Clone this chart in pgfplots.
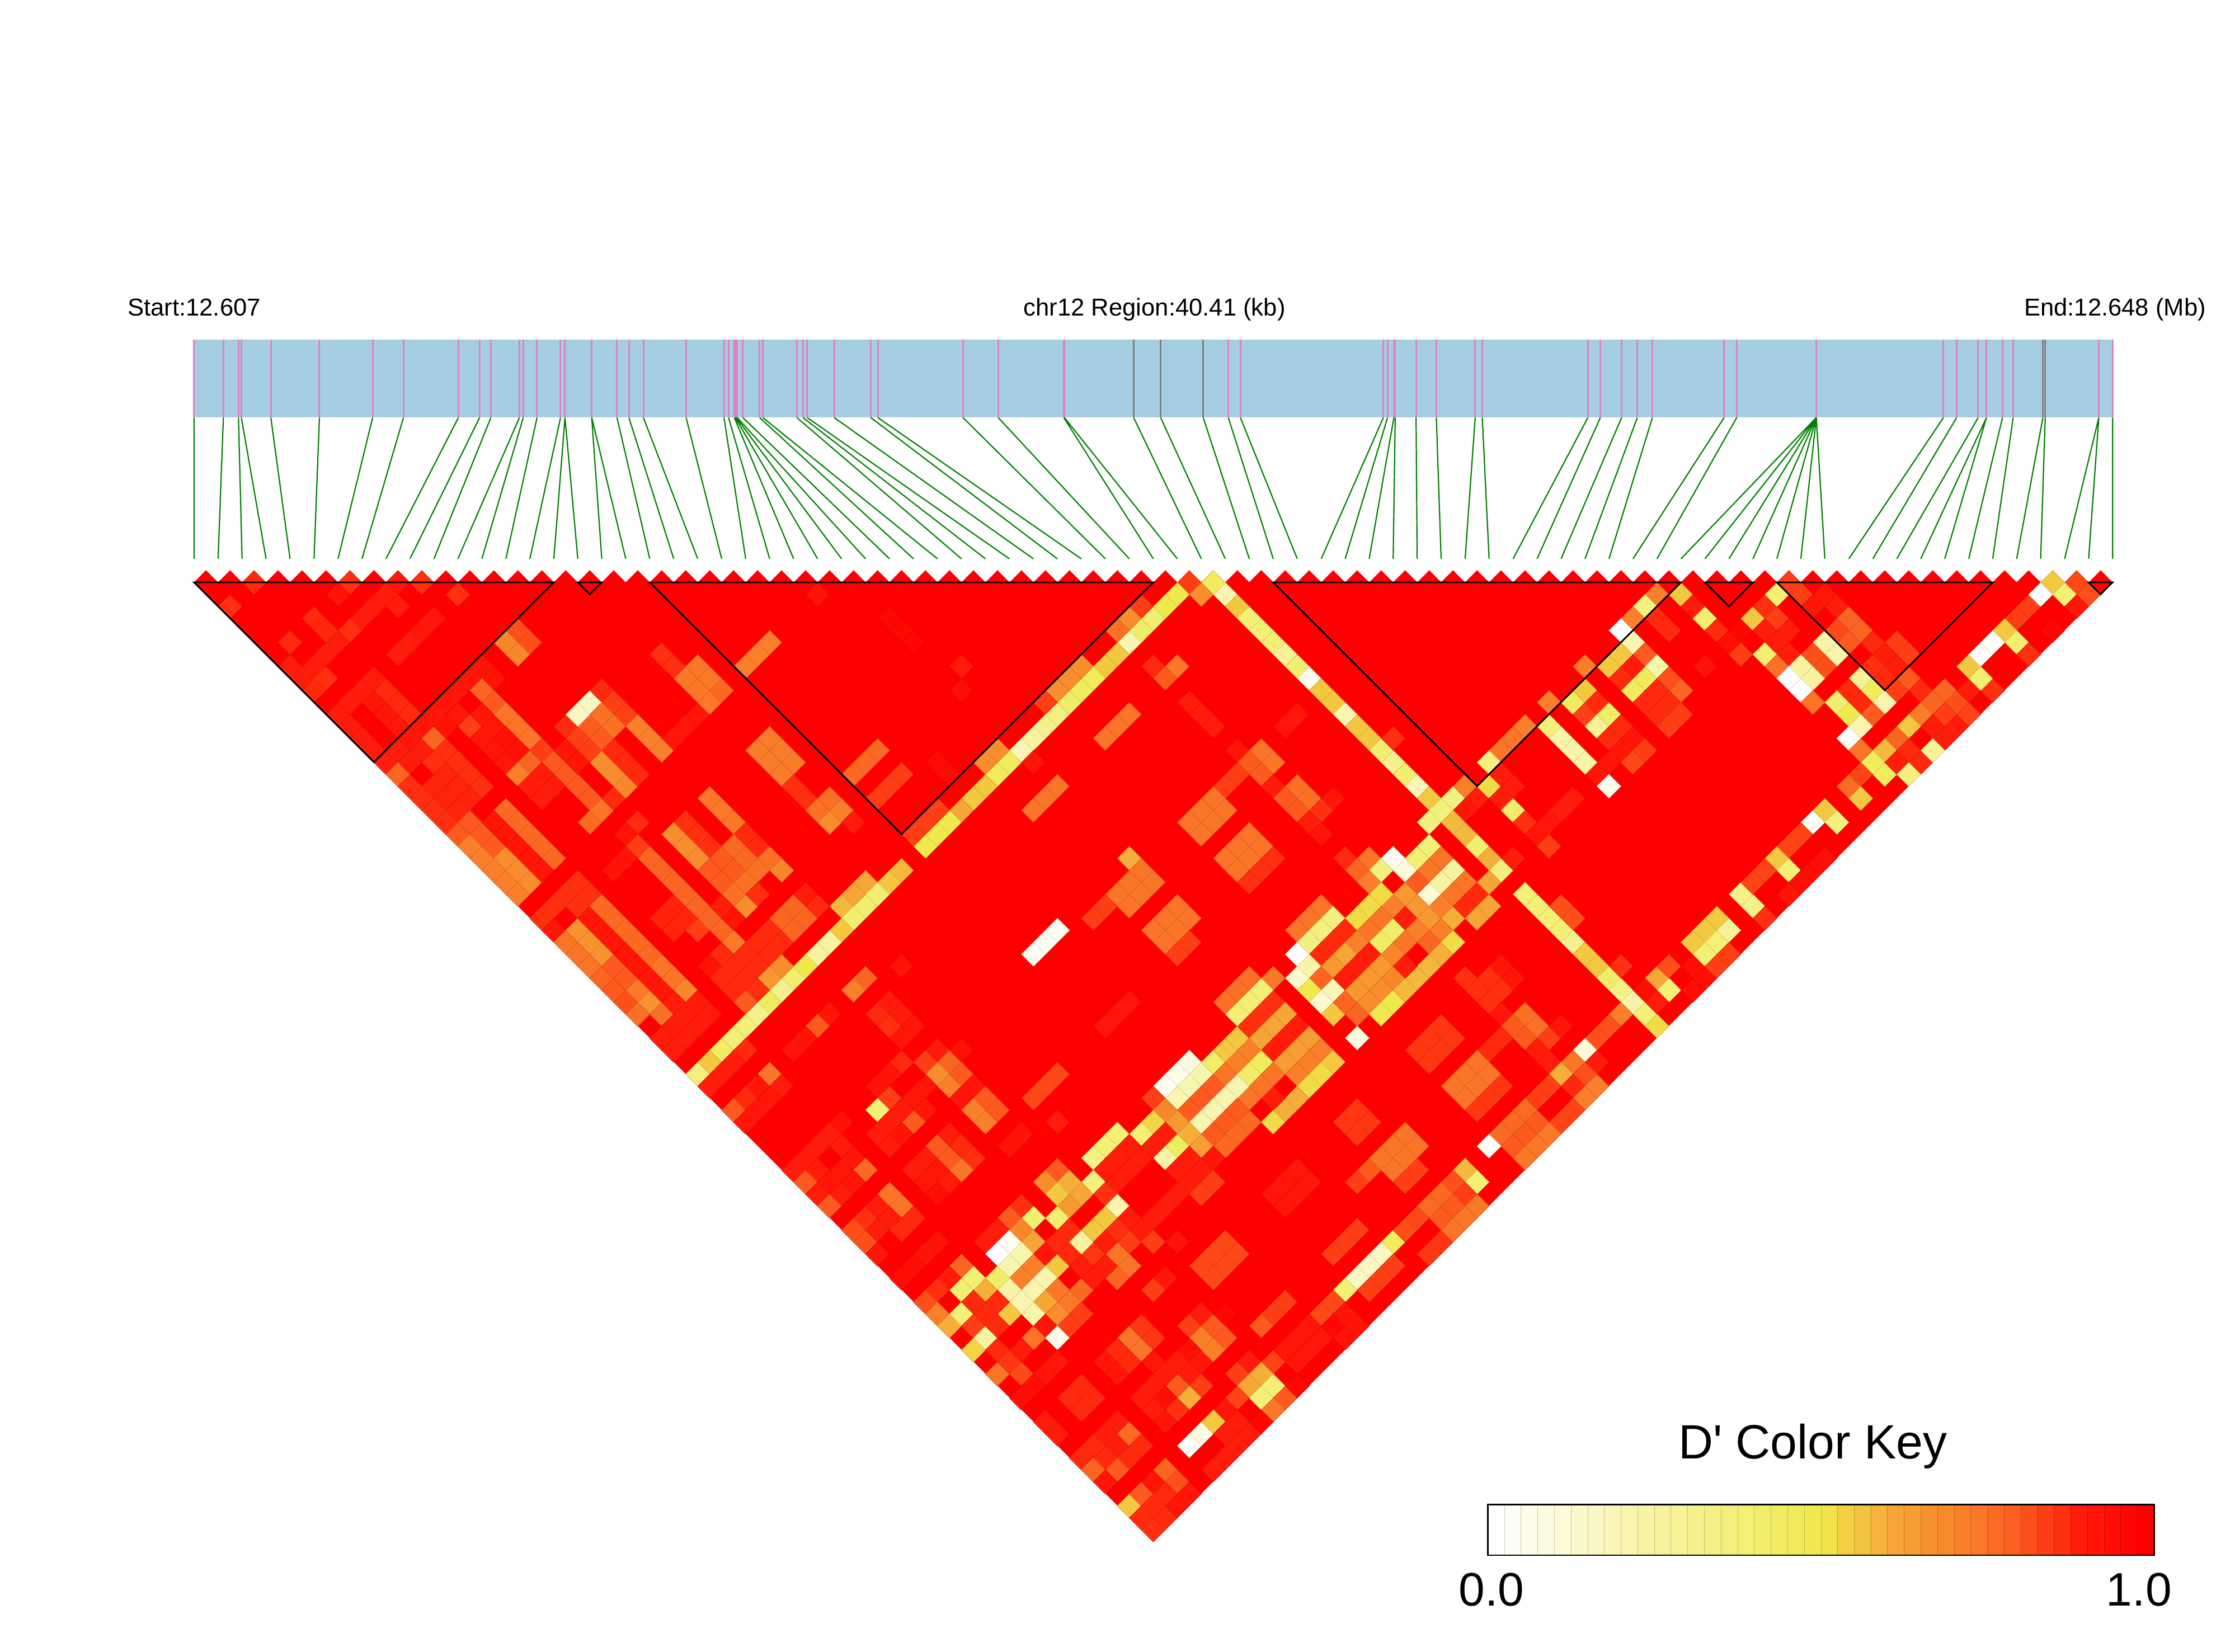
\documentclass[border=0pt]{standalone}
\usepackage{fontspec}
\setmainfont{Liberation Sans}
\usepackage{pgfplots}
\pgfplotsset{compat=1.18}
\definecolor{trackblue}{HTML}{A6CEE3}
\definecolor{snppink}{HTML}{DE82BE}
\definecolor{snpgray}{HTML}{808080}
\definecolor{snpgreen}{HTML}{008000}
\pgfplotsset{ldframe/.style={
  scale only axis, width=998.75pt, height=738.25pt,
  xmin=-16.19, xmax=170.21, ymin=-48.57, ymax=89.21, y dir=reverse,
  hide axis, clip=false}}
\begin{document}
\begin{tikzpicture}
\begin{axis}[
  ldframe,
  point meta min=0, point meta max=1,
  colormap={ld}{rgb255(0pt)=(255,255,255); rgb255(20pt)=(249,245,176); rgb255(40pt)=(243,238,111); rgb255(50pt)=(240,233,78); rgb255(55pt)=(243,200,64); rgb255(60pt)=(245,174,58); rgb255(66pt)=(247,148,47); rgb255(75pt)=(250,117,39); rgb255(80pt)=(252,90,30); rgb255(85pt)=(254,62,20); rgb255(90pt)=(255,28,10); rgb255(100pt)=(255,0,0)},
]
\path (axis cs:-16.19,-48.57) rectangle (axis cs:170.21,89.21);
% tracks
\addplot[fill=trackblue,draw=none] coordinates {(0,-20.25)(160,-20.25)(160,-13.74)(0,-13.74)} --cycle;
\addplot[snppink,line width=0.75pt,unbounded coords=jump] coordinates {
(0,-20.25)(0,-13.74)(nan,nan)(2.44,-20.25)(2.44,-13.74)(nan,nan)(3.70,-20.25)(3.70,-13.74)(nan,nan)(3.94,-20.25)(3.94,-13.74)(nan,nan)(6.40,-20.25)(6.40,-13.74)(nan,nan)(10.45,-20.25)(10.45,-13.74)(nan,nan)(14.89,-20.25)(14.89,-13.74)(nan,nan)(17.46,-20.25)(17.46,-13.74)(nan,nan)(22.04,-20.25)(22.04,-13.74)(nan,nan)(23.81,-20.25)(23.81,-13.74)(nan,nan)(24.75,-20.25)(24.75,-13.74)(nan,nan)(27.13,-20.25)(27.13,-13.74)(nan,nan)(27.45,-20.25)(27.45,-13.74)(nan,nan)(28.60,-20.25)(28.60,-13.74)(nan,nan)(30.56,-20.25)(30.56,-13.74)(nan,nan)(30.93,-20.25)(30.93,-13.74)(nan,nan)(33.16,-20.25)(33.16,-13.74)(nan,nan)(35.27,-20.25)(35.27,-13.74)(nan,nan)(36.26,-20.25)(36.26,-13.74)(nan,nan)(37.47,-20.25)(37.47,-13.74)(nan,nan)(41.03,-20.25)(41.03,-13.74)(nan,nan)(44.19,-20.25)(44.19,-13.74)(nan,nan)(44.57,-20.25)(44.57,-13.74)(nan,nan)(45.05,-20.25)(45.05,-13.74)(nan,nan)(45.13,-20.25)(45.13,-13.74)(nan,nan)(45.21,-20.25)(45.21,-13.74)(nan,nan)(45.29,-20.25)(45.29,-13.74)(nan,nan)(45.77,-20.25)(45.77,-13.74)(nan,nan)(47.16,-20.25)(47.16,-13.74)(nan,nan)(47.43,-20.25)(47.43,-13.74)(nan,nan)(50.27,-20.25)(50.27,-13.74)(nan,nan)(50.78,-20.25)(50.78,-13.74)(nan,nan)(51.13,-20.25)(51.13,-13.74)(nan,nan)(53.38,-20.25)(53.38,-13.74)(nan,nan)(56.43,-20.25)(56.43,-13.74)(nan,nan)(57.02,-20.25)(57.02,-13.74)(nan,nan)(64.12,-20.25)(64.12,-13.74)(nan,nan)(67.06,-20.25)(67.06,-13.74)(nan,nan)(72.53,-20.25)(72.53,-13.74)(nan,nan)(72.58,-20.25)(72.58,-13.74)(nan,nan)(86.25,-20.25)(86.25,-13.74)(nan,nan)(87.26,-20.25)(87.26,-13.74)(nan,nan)(99.18,-20.25)(99.18,-13.74)(nan,nan)(99.53,-20.25)(99.53,-13.74)(nan,nan)(100.06,-20.25)(100.06,-13.74)(nan,nan)(100.17,-20.25)(100.17,-13.74)(nan,nan)(101.91,-20.25)(101.91,-13.74)(nan,nan)(103.60,-20.25)(103.60,-13.74)(nan,nan)(106.84,-20.25)(106.84,-13.74)(nan,nan)(107.43,-20.25)(107.43,-13.74)(nan,nan)(116.24,-20.25)(116.24,-13.74)(nan,nan)(117.28,-20.25)(117.28,-13.74)(nan,nan)(119.05,-20.25)(119.05,-13.74)(nan,nan)(120.36,-20.25)(120.36,-13.74)(nan,nan)(121.62,-20.25)(121.62,-13.74)(nan,nan)(127.60,-20.25)(127.60,-13.74)(nan,nan)(128.65,-20.25)(128.65,-13.74)(nan,nan)(135.29,-20.25)(135.29,-13.74)(nan,nan)(145.89,-20.25)(145.89,-13.74)(nan,nan)(146.99,-20.25)(146.99,-13.74)(nan,nan)(148.79,-20.25)(148.79,-13.74)(nan,nan)(149.48,-20.25)(149.48,-13.74)(nan,nan)(150.82,-20.25)(150.82,-13.74)(nan,nan)(151.71,-20.25)(151.71,-13.74)(nan,nan)(158.85,-20.25)(158.85,-13.74)(nan,nan)(160,-20.25)(160,-13.74)
};
\addplot[snpgray,line width=0.75pt,unbounded coords=jump] coordinates {
(78.36,-20.25)(78.36,-13.74)(nan,nan)(80.61,-20.25)(80.61,-13.74)(nan,nan)(84.16,-20.25)(84.16,-13.74)(nan,nan)(154.19,-20.25)(154.19,-13.74)(nan,nan)(154.38,-20.25)(154.38,-13.74)
};
% connectors
\addplot[snpgreen,line width=0.55pt,unbounded coords=jump] coordinates {
(0,-13.74)(0,-1.96)(nan,nan)(2.44,-13.74)(2,-1.96)(nan,nan)(3.70,-13.74)(4,-1.96)(nan,nan)(3.94,-13.74)(6,-1.96)(nan,nan)(6.40,-13.74)(8,-1.96)(nan,nan)(10.45,-13.74)(10,-1.96)(nan,nan)(14.89,-13.74)(12,-1.96)(nan,nan)(17.46,-13.74)(14,-1.96)(nan,nan)(22.04,-13.74)(16,-1.96)(nan,nan)(23.81,-13.74)(18,-1.96)(nan,nan)
(24.75,-13.74)(20,-1.96)(nan,nan)(27.13,-13.74)(22,-1.96)(nan,nan)(27.45,-13.74)(24,-1.96)(nan,nan)(28.60,-13.74)(26,-1.96)(nan,nan)(30.56,-13.74)(28,-1.96)(nan,nan)(30.93,-13.74)(30,-1.96)(nan,nan)(30.93,-13.74)(32,-1.96)(nan,nan)(33.16,-13.74)(34,-1.96)(nan,nan)(33.16,-13.74)(36,-1.96)(nan,nan)(35.27,-13.74)(38,-1.96)(nan,nan)
(36.26,-13.74)(40,-1.96)(nan,nan)(37.47,-13.74)(42,-1.96)(nan,nan)(41.03,-13.74)(44,-1.96)(nan,nan)(44.19,-13.74)(46,-1.96)(nan,nan)(44.57,-13.74)(48,-1.96)(nan,nan)(45.05,-13.74)(50,-1.96)(nan,nan)(45.13,-13.74)(52,-1.96)(nan,nan)(45.21,-13.74)(54,-1.96)(nan,nan)(45.29,-13.74)(56,-1.96)(nan,nan)(45.77,-13.74)(58,-1.96)(nan,nan)
(47.16,-13.74)(60,-1.96)(nan,nan)(47.43,-13.74)(62,-1.96)(nan,nan)(50.27,-13.74)(64,-1.96)(nan,nan)(50.78,-13.74)(66,-1.96)(nan,nan)(51.13,-13.74)(68,-1.96)(nan,nan)(53.38,-13.74)(70,-1.96)(nan,nan)(56.43,-13.74)(72,-1.96)(nan,nan)(57.02,-13.74)(74,-1.96)(nan,nan)(64.12,-13.74)(76,-1.96)(nan,nan)(67.06,-13.74)(78,-1.96)(nan,nan)
(72.53,-13.74)(80,-1.96)(nan,nan)(72.58,-13.74)(82,-1.96)(nan,nan)(78.36,-13.74)(84,-1.96)(nan,nan)(80.61,-13.74)(86,-1.96)(nan,nan)(84.16,-13.74)(88,-1.96)(nan,nan)(86.25,-13.74)(90,-1.96)(nan,nan)(87.26,-13.74)(92,-1.96)(nan,nan)(99.18,-13.74)(94,-1.96)(nan,nan)(99.53,-13.74)(96,-1.96)(nan,nan)(100.06,-13.74)(98,-1.96)(nan,nan)
(100.17,-13.74)(100,-1.96)(nan,nan)(101.91,-13.74)(102,-1.96)(nan,nan)(103.60,-13.74)(104,-1.96)(nan,nan)(106.84,-13.74)(106,-1.96)(nan,nan)(107.43,-13.74)(108,-1.96)(nan,nan)(116.24,-13.74)(110,-1.96)(nan,nan)(117.28,-13.74)(112,-1.96)(nan,nan)(119.05,-13.74)(114,-1.96)(nan,nan)(120.36,-13.74)(116,-1.96)(nan,nan)(121.62,-13.74)(118,-1.96)(nan,nan)
(127.60,-13.74)(120,-1.96)(nan,nan)(128.65,-13.74)(122,-1.96)(nan,nan)(135.29,-13.74)(124,-1.96)(nan,nan)(135.29,-13.74)(126,-1.96)(nan,nan)(135.29,-13.74)(128,-1.96)(nan,nan)(135.29,-13.74)(130,-1.96)(nan,nan)(135.29,-13.74)(132,-1.96)(nan,nan)(135.29,-13.74)(134,-1.96)(nan,nan)(135.29,-13.74)(136,-1.96)(nan,nan)(145.89,-13.74)(138,-1.96)(nan,nan)
(146.99,-13.74)(140,-1.96)(nan,nan)(148.79,-13.74)(142,-1.96)(nan,nan)(149.48,-13.74)(144,-1.96)(nan,nan)(149.48,-13.74)(146,-1.96)(nan,nan)(150.82,-13.74)(148,-1.96)(nan,nan)(151.71,-13.74)(150,-1.96)(nan,nan)(154.19,-13.74)(152,-1.96)(nan,nan)(154.38,-13.74)(154,-1.96)(nan,nan)(158.85,-13.74)(156,-1.96)(nan,nan)(158.85,-13.74)(158,-1.96)(nan,nan)(160,-13.74)(160,-1.96)
};
% red base of the triangle and first row
\addplot[fill=red,draw=none] coordinates {(0,0)(160,0)(80,80)} --cycle;
\addplot[only marks,mark=square*,mark size=3.8pt,color=red,mark options={rotate=45,line width=0pt}] coordinates {
(1,0)(3,0)(5,0)(7,0)(9,0)(11,0)(13,0)(15,0)(17,0)(19,0)(21,0)(23,0)(25,0)(27,0)(29,0)(31,0)(33,0)(35,0)(37,0)(39,0)(41,0)(43,0)(45,0)(47,0)(49,0)(51,0)(53,0)(55,0)(57,0)(59,0)(61,0)(63,0)(65,0)(67,0)(69,0)(71,0)(73,0)(75,0)(77,0)(79,0)(81,0)(83,0)(85,0)(87,0)(89,0)(91,0)(93,0)(95,0)(97,0)(99,0)(101,0)(103,0)(105,0)(107,0)(109,0)(111,0)(113,0)(115,0)(117,0)(119,0)(121,0)(123,0)(125,0)(127,0)(129,0)(131,0)(133,0)(135,0)(137,0)(139,0)(141,0)(143,0)(145,0)(147,0)(149,0)(151,0)(153,0)(155,0)(157,0)(159,0)
};
% D' values below 1
\addplot[scatter,only marks,scatter src=explicit,mark=square*,mark size=3.8pt,mark options={rotate=45,line width=0pt}] coordinates {
(5,0)[.88](13,0)[.87](19,0)[.87](17,0)[.92](12,1)[.93](16,1)[.9](15,2)[.9](14,3)[.9](13,4)[.87](17,2)[.9](22,1)[.87](3,2)[.87](10,3)[.88](11,4)[.88](8,5)[.88](12,5)[.9](11,6)[.9](10,7)[.9](9,8)[.9](8,7)[.9](10,9)[.88](11,8)[.87](20,3)[.92](19,4)[.92](18,5)[.9](17,6)[.9]
(15,8)[.9](14,9)[.9](13,10)[.9](12,11)[.9](13,12)[.9](14,13)[.9](15,14)[.9](16,15)[.9](16,9)[.88](17,10)[.88](18,11)[.88](15,10)[.92](16,11)[.92](17,12)[.92]
(19,12)[.92](18,13)[.92](19,14)[.9](20,13)[.78](17,14)[.9](18,15)[.9](17,16)[.78](20,15)[.87](21,14)[.87](22,15)[.87](23,16)[.87](24,17)[.87](21,16)[.89](22,17)[.89](23,18)[.89](20,17)[.89](21,18)[.89](22,19)[.89](18,17)[.87](19,18)[.87](20,19)[.87](21,20)[.87](22,21)[.8](23,20)[.8](24,21)[.8](25,22)[.8](23,22)[.72](24,23)[.72](25,24)[.72](26,25)[.72](27,26)[.72](26,23)[.68](27,24)[.68](28,25)[.68]
(26,19)[.77](27,20)[.77](28,21)[.77](29,22)[.77](30,23)[.77](25,20)[.92](26,21)[.92](27,22)[.92](28,23)[.92](29,24)[.92](30,27)[.87](31,26)[.87](32,25)[.87](33,26)[.9](32,27)[.9](34,27)[.8]
(27,4)[.82](28,5)[.82](26,5)[.7](27,6)[.7](24,7)[.93](25,8)[.93](23,8)[.92](22,9)[.92](21,10)[.92](20,11)[.92](22,11)[.92](23,12)[.85](24,9)[.78](25,10)[.8](24,11)[.92](25,12)[.92](26,11)[.75](27,12)[.75](28,13)[.75](24,13)[.92](25,14)[.92](26,15)[.92](26,13)[.94](27,14)[.94](21,12)[.93]
(28,15)[.78](27,16)[.72](29,14)[.85](30,15)[.8](31,16)[.8](32,17)[.8](33,18)[.8](29,16)[.9](30,17)[.9](28,17)[.9](29,18)[.9](33,20)[.77](34,19)[.75](35,18)[.88](34,15)[.68](35,16)[.68](36,17)[.7](35,14)[.88](36,15)[.88](37,16)[.88](31,12)[.88](32,13)[.85](33,14)[.85](33,12)[.8](34,13)[.8](31,14)[.92](32,15)[.92](32,11)[.15](33,10)[.15](34,9)[.88](35,10)[.85](36,11)[.85](34,11)[.76](35,12)[.76](37,12)[.72](38,13)[.72](39,14)[.72](40,13)[.92](41,12)[.92](42,11)[.92](42,7)[.74](41,8)[.74](42,9)[.74](43,8)[.74](43,10)[.74](44,9)[.77](40,7)[.87](39,6)[.87](48,5)[.72](47,6)[.72](46,7)[.72](52,1)[.93]
(48,13)[.73](47,14)[.73](49,14)[.73](48,15)[.73](50,15)[.73](49,16)[.73](50,17)[.87](51,18)[.87](52,19)[.76](53,18)[.76](53,20)[.68](43,18)[.74](44,19)[.74](45,20)[.74](46,21)[.88](47,22)[.88](45,22)[.77](46,23)[.77](37,20)[.88](36,21)[.93](37,22)[.85](36,23)[.93](35,24)[.93](41,20)[.87](42,21)[.87](43,22)[.87](40,21)[.68](41,22)[.68](42,23)[.68](44,23)[.8](43,24)[.8](45,24)[.8](44,25)[.8](38,23)[.78](39,24)[.78](40,25)[.78](41,26)[.78](42,27)[.78](46,25)[.76](47,24)[.76](48,23)[.76](45,26)[.76](49,24)[.7](47,26)[.87](46,27)[.68](51,26)[.9](50,27)[.72]
(83,0)[.85](85,0)[.45](84,1)[.68](82,1)[.5](81,2)[.5](80,3)[.4](79,4)[.42](78,5)[.2](77,6)[.55](76,7)[.55](75,8)[.45](74,9)[.45](73,10)[.42](72,11)[.35](71,12)[.3](70,13)[.25](69,14)[.18](68,15)[.45](67,16)[.45](66,17)[.55](65,18)[.55](64,19)[.62](63,20)[.5](62,21)[.5](61,22)[.5]
(79,2)[.85](78,3)[.68](77,4)[.76](74,7)[.68](73,8)[.68](72,9)[.68](71,10)[.85](67,14)[.68](66,15)[.68](70,15)[.92](62,19)[.85](61,20)[.85](60,21)[.85]
(58,3)[.97](59,4)[.97](60,5)[.97](64,7)[.9](64,9)[.95](57,14)[.77](56,15)[.77](55,16)[.77](59,16)[.85](58,17)[.85](57,18)[.85](62,15)[.96](63,16)[.96](54,19)[.72](55,20)[.9]
(80,7)[.88](82,7)[.74](81,8)[.8](83,10)[.9](84,11)[.9](85,12)[.9](78,11)[.75](77,12)[.75](76,13)[.75](72,17)[.75](71,18)[.75](70,19)[.75](92,11)[.92](91,12)[.92]
(86,1)[.2](87,2)[.55](88,3)[.38](89,4)[.38](90,5)[.38](91,6)[.28](92,7)[.4](93,8)[.05](94,9)[.55](95,10)[.55](96,11)[.2](97,12)[.55](98,13)[.55](99,14)[.4](100,15)[.3](101,16)[.4](102,17)[.18](103,18)[.55]
(100,13)[.87](87,14)[.92](89,14)[.75](90,15)[.75](88,15)[.8](89,16)[.8](87,16)[.85](86,17)[.85](85,18)[.75](84,19)[.75](86,19)[.75](85,20)[.75](83,20)[.75](84,21)[.75](88,21)[.75](87,22)[.75](89,22)[.75](86,23)[.75](88,23)[.75](87,24)[.75](90,23)[.87](89,24)[.87](88,25)[.87](90,17)[.9](92,17)[.76](93,18)[.76](91,18)[.8](92,19)[.8](95,18)[.92](94,19)[.87](93,20)[.9](94,21)[.92]
(96,23)[.88](98,23)[.75](97,24)[.78](100,23)[.03](99,24)[.35](101,24)[.1](103,22)[.38](102,23)[.38](105,24)[.25](104,25)[.25](103,26)[.1](104,23)[.75](103,24)[.75](102,25)[.8](101,26)[.65](106,25)[.75](105,26)[.75](104,27)[.75](98,25)[.72](99,26)[.88](100,27)[.72](102,27)[.65](98,27)[.5]
(105,18)[.35](104,19)[.35](103,20)[.35](106,17)[.72](107,18)[.9](106,19)[.92](105,20)[.58](106,21)[.58](107,22)[.4]
(78,23)[.6](79,24)[.75](78,25)[.75](80,25)[.75](79,26)[.75](77,26)[.75](78,27)[.75](76,27)[.85](82,27)[.75]
(59,24)[.58](58,25)[.55](57,26)[.4](56,27)[.4](56,25)[.62](55,26)[.62](54,27)[.58]
(29,28)[.87](30,27)[.87](31,26)[.87](30,29)[.92](32,27)[.87](33,26)[.87](32,29)[.66](33,30)[.66](34,31)[.66](31,30)[.75](32,31)[.75](33,32)[.75](34,33)[.78](35,34)[.8](36,35)[.82](35,32)[.8](36,33)[.8](37,34)[.74](38,35)[.66](37,36)[.76](39,36)[.76]
(33,28)[.92](34,29)[.92](35,30)[.92](36,31)[.92](37,32)[.92](38,33)[.92](39,34)[.92](34,27)[.77](35,28)[.77](36,29)[.77](37,30)[.77](38,31)[.77](39,32)[.75](40,33)[.75](41,34)[.7](40,35)[.9](41,36)[.9](42,35)[.9](43,36)[.9](42,37)[.9](41,38)[.9](40,37)[.9](39,38)[.9](40,39)[.9]
(40,27)[.89](39,28)[.89](41,28)[.89](40,29)[.89](42,29)[.85](41,26)[.78](42,27)[.78](43,28)[.78](44,29)[.78](45,30)[.74](44,31)[.88](43,32)[.93](46,31)[.88](45,32)[.88](44,33)[.88](47,32)[.88](46,33)[.88](45,34)[.88](47,30)[.88](48,31)[.88](48,29)[.88](49,30)[.88](50,27)[.78](49,28)[.78](51,28)[.78](50,29)[.78](46,27)[.68](45,26)[.76](44,27)[.9](45,28)[.93](47,26)[.87](52,27)[.88](51,26)[.9]
(57,26)[.4](55,28)[.4](54,29)[.55](53,30)[.25](52,31)[.25](51,32)[.5](50,33)[.4](49,34)[.3](48,35)[.45](47,36)[.3](46,37)[.38](45,38)[.38](44,39)[.42](43,40)[.55](42,41)[.35]
(49,32)[.68](48,33)[.65](47,34)[.87](46,35)[.8](46,39)[.88](45,40)[.9](44,41)[.9](43,42)[.9](48,41)[.75](49,42)[.9](47,42)[.92](46,43)[.88](45,44)[.8](47,44)[.92](48,43)[.92](46,45)[.92]
(56,33)[.78](55,34)[.72](59,32)[.93](53,36)[.93](52,37)[.8](51,38)[.93](50,39)[.92](57,36)[.88](58,37)[.87](58,35)[.9](59,36)[.9](60,37)[.92](59,38)[.92](59,40)[.88](58,41)[.93](57,42)[.93](58,43)[.85](57,44)[.38]
(61,40)[.85](62,39)[.9](63,40)[.78](62,41)[.68](63,42)[.72](61,42)[.92](60,43)[.92](61,44)[.92](60,45)[.8](59,44)[.9](58,45)[.9](57,46)[.9](58,47)[.9](59,46)[.93](54,45)[.94](53,46)[.9](54,47)[.9](52,47)[.9](51,48)[.9](50,49)[.9](55,48)[.92](54,49)[.92](56,49)[.77](55,50)[.92](52,49)[.9](53,50)[.92](51,50)[.8](52,51)[.9](54,51)[.9](53,52)[.8]
(56,53)[.87](57,52)[.9](58,51)[.75](59,52)[.75](60,53)[.88](59,54)[.88](58,53)[.9](57,54)[.9](61,48)[.9](60,49)[.9](62,47)[.8](62,49)[.92](61,50)[.92](63,48)[.8](62,51)[.95](63,50)[.9]
(72,29)[.03](71,30)[.03](70,31)[.03](75,28)[.85](76,27)[.85](79,26)[.75](81,28)[.75](80,29)[.75](83,28)[.75](82,29)[.75](81,30)[.75](83,30)[.85](82,31)[.85](94,27)[.75](93,28)[.75](92,29)[.75](95,28)[.35](94,29)[.35](93,30)[.35](92,31)[0](94,31)[.88](95,30)[.88](96,29)[.88](93,32)[.22](92,33)[.12](94,33)[.78](93,34)[.5](95,34)[.18](94,35)[.12](95,36)[.55](96,35)[.78](97,36)[.78](97,38)[.08]
(97,28)[.52](98,27)[.52](99,26)[.52](99,28)[.75](98,29)[.75](97,30)[.72](96,31)[.62](95,32)[.65](100,29)[.42](99,30)[.42](98,31)[.9](97,32)[.9](96,33)[.9](100,31)[.7](99,32)[.65](98,33)[.65](97,34)[.65](98,35)[.68](99,34)[.68](100,33)[.7](99,36)[.5](100,35)[.5]
(64,39)[.94](64,41)[.8](65,42)[.92](64,43)[.92](66,43)[.8](65,44)[.72](66,45)[.72](67,44)[.8](72,41)[.83](71,42)[.83](70,43)[.83](72,45)[.9](69,46)[.93](68,47)[.93](78,35)[.92](77,36)[.92](76,37)[.92](63,46)[.9](64,47)[.88](65,48)[.87](64,49)[.75]
(83,40)[.08](82,41)[.06](81,42)[.04](84,41)[.2](83,42)[.2](82,43)[.2](85,40)[.42](86,39)[.55](87,38)[.55](85,42)[.8](84,43)[.8](83,44)[.8](86,41)[.75](87,40)[.72](88,39)[.72](90,35)[.87](89,36)[.87](88,37)[.87](90,33)[.74](89,34)[.38](88,35)[.38](87,36)[.38](88,33)[.76](87,34)[.76](86,35)[.76](91,36)[.62](90,37)[.62](89,38)[.62](92,37)[.9](91,38)[.9](90,39)[.9](93,38)[.64](92,39)[.64](91,40)[.64](94,39)[.72](93,40)[.72](92,41)[.72](95,40)[.55](94,41)[.52](93,42)[.52](92,43)[.6](91,44)[.6](90,45)[.52](90,43)[.9](89,40)[.45](88,41)[.42](90,41)[.75](89,42)[.75](88,43)[.75](87,42)[.2](86,43)[.2](85,44)[.2](84,45)[.2](87,44)[.8](86,45)[.8](85,46)[.8](88,45)[.77](87,46)[.77](86,47)[.77]
(80,43)[.85](81,44)[.7](82,45)[.65](83,46)[.6](84,47)[.64](85,48)[.92](80,45)[.53](79,46)[.38](81,46)[.9](80,47)[.9](82,47)[.45](81,48)[.22](83,48)[.9](82,49)[.9](84,49)[.9](77,46)[.38](76,47)[.38](75,48)[.32](78,47)[.9](77,48)[.9](76,49)[.9](79,48)[.9](78,49)[.9](77,50)[.9](75,50)[.35](76,51)[.87](77,52)[.2]
(72,49)[.8](71,50)[.68](73,50)[.6](72,51)[.55](74,51)[.62](73,52)[.65](72,53)[.4](70,53)[.4](69,52)[.87](68,53)[.8](67,54)[.9](73,54)[.88](76,53)[.55](78,53)[.9](83,50)[.9](82,51)[.9](81,52)[.9](80,53)[.9](85,50)[.85](84,51)[.85](97,44)[.86](96,45)[.86](98,45)[.86](97,46)[.86](92,49)[.92](91,50)[.92](90,51)[.92](93,50)[.92](92,51)[.92](91,52)[.92](97,50)[.85](98,49)[.8](99,48)[.75](100,47)[.75](100,49)[.75]
(104,27)[.72](101,28)[.9](103,28)[.65](105,28)[.6](106,27)[.88](107,26)[.88](107,28)[.62](108,27)[.62](102,29)[.72](104,29)[.72](103,30)[.78](105,30)[.52](104,31)[.6](101,30)[.75](103,32)[.58](102,33)[.58](101,34)[.58](101,32)[.9]
(106,33)[.87](109,32)[.92](110,33)[.92](108,33)[.87](109,34)[.87](107,34)[.87](108,35)[.87](109,36)[.92](111,36)[.76](112,37)[.76](110,37)[.8](111,38)[.8](113,38)[.85](114,37)[.92](112,39)[.9](113,40)[.9](109,38)[.88](108,39)[.88]
(107,40)[.75](106,41)[.75](105,42)[.75](108,41)[.75](107,42)[.75](106,43)[.75](109,42)[.86](108,43)[.86](107,44)[.86](104,37)[.86](103,38)[.86](102,39)[.86](105,38)[.86](104,39)[.86](103,40)[.86]
(111,26)[.38](112,27)[.38](113,28)[.38](114,29)[.38](115,30)[.3](116,31)[.55](117,32)[.55](118,33)[.42](119,34)[.32](120,35)[.22](121,36)[.38](122,37)[.52](114,27)[.82](115,28)[.82](119,32)[.87](122,33)[.62](123,32)[.82](123,34)[.38](121,34)[.95](122,35)[.9](125,32)[.95](126,33)[.95](125,34)[.95](119,36)[.72](118,37)[.82](117,38)[.82](116,39)[.1](117,40)[.9](115,40)[.75](116,41)[.82](114,41)[.6](115,42)[.88](117,42)[.72](116,43)[.72](113,42)[.85](112,43)[.85](115,44)[.84](114,45)[.84](111,44)[.77](110,45)[.77](109,46)[.77](112,45)[.8](111,46)[.8](110,47)[.8](113,46)[.74](112,47)[.74](111,48)[.74](108,47)[.02]
(127,28)[.55](126,29)[.55](125,30)[.55](128,29)[.28](127,30)[.38](126,31)[.38](128,31)[.85](127,32)[.85](129,26)[.32](130,27)[.32](131,28)[.87]
(106,49)[.58](107,50)[.38](105,50)[.82](106,51)[.85](104,51)[.77](103,52)[.77](105,52)[.8](104,53)[.8](107,52)[.74](106,53)[.74](102,53)[.83](101,50)[.85](102,49)[.85](101,46)[.75](102,47)[.75](101,48)[.75]
(55,54)[.82](56,55)[.82](57,56)[.92](57,54)[.9](59,54)[.88](61,56)[.93](60,57)[.95](59,58)[.95](62,55)[.93](66,55)[.9](68,55)[.04](67,56)[0](69,54)[.7](70,55)[.62](69,56)[.2](68,57)[.2](70,57)[.72](69,58)[.72](71,56)[.92](72,57)[.55](71,58)[.2](70,59)[.2](69,60)[.2](68,59)[.22](67,58)[.42](66,59)[.6](65,58)[.38](64,59)[.4](64,57)[.78](63,58)[.9](62,59)[.87](61,60)[.82](62,61)[.72](63,62)[.6](64,61)[.38](65,62)[.85](65,64)[.53](66,63)[.25](67,64)[.88](67,66)[.75](68,65)[.86](69,66)[.83]
(72,59)[.74](73,60)[.74](71,60)[.62](72,61)[.68](74,59)[.77](74,61)[.85](73,62)[.85](70,61)[.2](68,61)[.55](71,62)[.92](72,63)[.05](70,63)[.75](69,64)[.9](65,60)[.88](66,61)[.88](67,60)[.88](67,62)[.88](72,55)[.88](73,56)[.88](74,57)[.9](75,56)[.86](77,56)[.75](78,57)[.75](77,58)[.78](76,57)[.9](75,58)[.9](74,55)[.25](75,54)[.55](76,55)[.9](78,55)[.85](77,54)[.87](79,54)[.9](80,55)[.85](82,55)[.93](81,58)[.92](80,59)[.85](84,57)[.83](78,63)[.75](79,64)[.75](79,62)[.86](80,63)[.86](76,65)[.92](77,66)[.92](77,64)[.88](78,65)[.88]
(83,62)[.85](84,63)[.72](84,61)[.9](83,64)[.95](82,65)[.9](83,66)[.9](84,65)[.92](84,67)[.85](83,68)[.6](82,67)[.8](81,66)[.9](80,67)[.9](81,68)[.95](82,69)[.87](80,69)[.9](81,70)[.92](79,68)[.9](80,65)[.92](74,67)[.88](73,68)[.88](75,68)[.88](74,69)[.88](72,65)[.92](71,66)[.92](70,67)[.95](69,68)[.95](71,70)[.9](72,71)[.9](77,70)[.9](76,71)[.9](77,72)[.9](78,71)[.77](79,72)[.88](78,73)[.88](76,73)[.88](75,72)[.88](74,73)[.88](75,74)[.78](77,74)[.8](76,75)[.92](78,77)[.55](79,76)[.8](80,75)[.93](81,74)[.78](82,75)[.82](81,76)[.88](80,77)[.88](79,78)[.88](80,79)[.87](81,78)[.88](82,77)[.92](83,76)[.92](83,72)[.02](84,71)[.08]
(86,55)[.83](85,56)[.83](87,56)[.83](86,57)[.83](85,58)[.83](97,54)[.85](96,55)[.85](95,56)[.85](100,55)[.45](99,56)[.15](98,57)[.15](97,58)[.15](96,59)[.38](95,60)[.83](94,61)[.83](99,58)[.85](98,59)[.85](100,57)[.85](101,54)[.82](104,55)[.86](103,56)[.86](105,54)[.75](91,60)[.85](90,61)[.85](89,62)[.8](85,62)[.8](86,63)[.8](85,64)[.72](86,61)[.97](88,65)[.9](87,66)[.85](90,65)[.84](89,66)[.6](88,67)[.62](90,67)[.38](89,68)[.38](91,68)[.8](90,69)[.74](87,68)[.84](86,69)[.92](85,70)[.55](87,70)[.9](86,71)[.9](88,71)[.9](89,70)[.97](87,72)[.9](86,73)[.9](85,74)[.9](93,62)[.92](92,63)[.92](91,64)[.92](94,63)[.92](93,64)[.92](92,65)[.92](92,67)[.97](95,62)[.97](96,61)[.93](97,62)[.93](96,63)[.93]
(133,0)[.85](155,0)[.55](157,0)[.83](122,1)[.72](121,2)[.35](120,3)[.72](119,4)[0](120,5)[.2](119,6)[.55](118,7)[.55](116,7)[.72](121,6)[.8](122,7)[.22](121,8)[.45](120,9)[.45](120,7)[.9](119,8)[.88](123,8)[.82](122,9)[.88](124,9)[.78](123,10)[.88](121,10)[.88](122,11)[.88](124,11)[.85](123,12)[.85](122,3)[.88](123,4)[.88](124,1)[.55](125,2)[.9](126,3)[.4](127,4)[.88](128,5)[.95](129,4)[.97](130,3)[.55](131,2)[.87](129,6)[.85](132,1)[.38](132,3)[.85](131,4)[.9](133,4)[.9](132,5)[.9](131,6)[.4](133,6)[.9](132,7)[.76](134,1)[.85](136,1)[.92](137,2)[.9](135,2)[.92](138,3)[.78](139,4)[.78](137,4)[.83](138,5)[.8](140,5)[.88](142,5)[.85](143,6)[.85](141,6)[.9](142,7)[.9](140,7)[.87](141,8)[.88]
(136,5)[.22](137,6)[.22](135,6)[.82](136,7)[.82](134,7)[.25](133,8)[0](135,8)[.25](134,9)[0](135,10)[.75](139,8)[.28](140,9)[.45](141,10)[.2](139,10)[.88](138,9)[.88](140,11)[.8](137,10)[.4](138,11)[.5](139,12)[.2](138,13)[.02]
(142,9)[.85](143,8)[.8](144,9)[.88](146,9)[.78](145,10)[.78](144,11)[.73](147,10)[.82](146,11)[.85](148,11)[.84](147,12)[.9](145,12)[.9](146,13)[.9](148,9)[.9](150,9)[.87](149,8)[.4](148,7)[.55](143,12)[.55](142,13)[.78](141,14)[.58](140,15)[.45](141,16)[.45](143,14)[.88](142,15)[.9](144,15)[.88](143,16)[.35](145,14)[.28](139,14)[.75](139,16)[.84](138,17)[.77](139,18)[.55]
(152,3)[.85](153,2)[.85](151,4)[.55](150,5)[.02](149,6)[.02](152,5)[.4](153,6)[.87](154,1)[0](156,1)[.38](158,1)[.82](157,2)[.92](155,4)[.97]
(113,10)[.72](115,10)[.45](116,9)[.55](116,11)[.85](117,10)[.88](118,11)[.42](117,12)[.28](119,12)[.88](118,13)[.88](120,13)[.92](119,14)[.92](121,14)[.85](120,15)[.83](118,15)[.92](117,16)[.92](118,17)[.05](113,12)[.38](114,13)[.22](115,14)[.22](116,15)[.22](111,12)[.72](110,13)[.75](109,14)[.75](108,15)[.35](108,17)[.52](109,16)[.9](110,17)[.9](109,18)[.9](110,19)[.42](111,20)[.87](114,19)[.9](115,18)[.9](113,20)[.92](112,21)[.92](113,22)[.85](108,23)[.6](109,24)[.36](108,25)[.62](110,23)[.9](135,20)[.03](136,19)[.55](137,20)[.35](134,21)[.84](133,22)[.84](132,23)[.55](133,24)[.38](131,24)[.84](130,25)[.84](133,26)[.93](136,23)[.95](135,24)[.95](134,25)[.95](126,7)[.93]
};
% colour key
\addplot[scatter,only marks,scatter src=explicit,mark=square*,mark size=3.74pt,mark options={yscale=3.06,line width=0pt}] coordinates {
(108.59,79.02)[0](109.98,79.02)[.03](111.37,79.02)[.05](112.76,79.02)[.08](114.15,79.02)[.1](115.54,79.02)[.13](116.93,79.02)[.15](118.32,79.02)[.18](119.71,79.02)[.21](121.1,79.02)[.23](122.49,79.02)[.26](123.87,79.02)[.28](125.26,79.02)[.31](126.65,79.02)[.33](128.04,79.02)[.36](129.43,79.02)[.38](130.82,79.02)[.41](132.21,79.02)[.44](133.6,79.02)[.46](134.99,79.02)[.49](136.38,79.02)[.51](137.77,79.02)[.54](139.16,79.02)[.56](140.55,79.02)[.59](141.93,79.02)[.62](143.32,79.02)[.64](144.71,79.02)[.67](146.1,79.02)[.69](147.49,79.02)[.72](148.88,79.02)[.74](150.27,79.02)[.77](151.66,79.02)[.79](153.05,79.02)[.82](154.44,79.02)[.85](155.83,79.02)[.87](157.22,79.02)[.9](158.61,79.02)[.92](159.99,79.02)[.95](161.38,79.02)[.97](162.77,79.02)[1]
};
\end{axis}
% second axis on the same frame: the outlines that lie over the marks, and the texts
\begin{axis}[ldframe]
\addplot[black,line width=0.72pt] coordinates {(0,0)(30,0)(15,15)} --cycle;
\addplot[black,line width=0.72pt] coordinates {(32,0)(34,0)(33,1)} --cycle;
\addplot[black,line width=0.72pt] coordinates {(38,0)(80,0)(59,21)} --cycle;
\addplot[black,line width=0.72pt] coordinates {(90,0)(124,0)(107,17)} --cycle;
\addplot[black,line width=0.72pt] coordinates {(126,0)(130,0)(128,2)} --cycle;
\addplot[black,line width=0.72pt] coordinates {(132,0)(150,0)(141,9)} --cycle;
\addplot[black,line width=0.72pt] coordinates {(158,0)(160,0)(159,1)} --cycle;
\addplot[black,line width=0.72pt] coordinates {(107.9,76.9)(163.46,76.9)(163.46,81.14)(107.9,81.14)} --cycle;
\node[anchor=base,font=\fontsize{10.9}{13}\selectfont] at (axis cs:0,-22.25) {Start:12.607};
\node[anchor=base,font=\fontsize{10.9}{13}\selectfont] at (axis cs:80.1,-22.25) {chr12 Region:40.41 (kb)};
\node[anchor=base,font=\fontsize{10.9}{13}\selectfont] at (axis cs:160.2,-22.25) {End:12.648 (Mb)};
\node[font=\fontsize{21.5}{25}\selectfont] at (axis cs:135,72.06) {D\textquotesingle{} Color Key};
\node[font=\fontsize{21}{25}\selectfont] at (axis cs:108.2,84) {0.0};
\node[font=\fontsize{21}{25}\selectfont] at (axis cs:162.2,84) {1.0};
\end{axis}
\end{tikzpicture}
\end{document}
